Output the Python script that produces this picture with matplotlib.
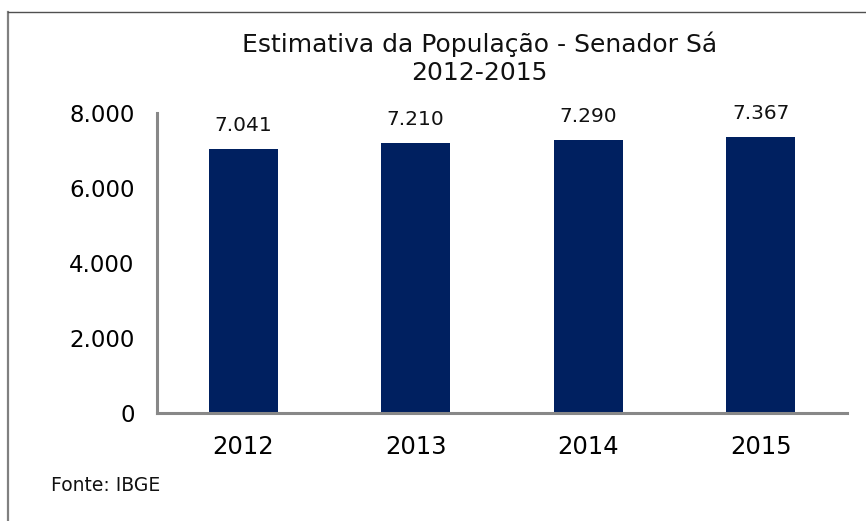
import matplotlib
matplotlib.use("Agg")
import matplotlib.pyplot as plt
from matplotlib.lines import Line2D

plt.rcParams['font.family'] = ['DejaVu Sans']

years = ["2012", "2013", "2014", "2015"]
population = [7041, 7210, 7290, 7367]
yticks = [0, 2000, 4000, 6000, 8000]
ytick_labels = ["0", "2.000", "4.000", "6.000", "8.000"]
value_labels = ["7.041", "7.210", "7.290", "7.367"]
title_line1 = "Estimativa da População - Senador Sá"
title_line2 = "2012-2015"
source_text = "Fonte: IBGE"

fig = plt.figure(figsize=(8.66, 5.21), dpi=100)
ax = fig.add_axes([0.181, 0.207, 0.797, 0.576])

x = range(len(years))
ax.bar(x, population, width=0.4, color="#002060", zorder=2)
for xi, v, lab in zip(x, population, value_labels):
    ax.annotate(lab, (xi, v), xytext=(0, 13), textcoords="offset points",
                ha="center", va="baseline", fontsize=14.5, color="#111111")

ax.set_xlim(-0.5, 3.5)
ax.set_ylim(0, 8000)
ax.set_xticks(list(x))
ax.set_xticklabels(years, fontsize=17.5)
ax.set_yticks(yticks)
ax.set_yticklabels(ytick_labels, fontsize=16.5)
ax.tick_params(axis="x", length=0, pad=16)
ax.tick_params(axis="y", length=0, pad=16)
for s in ["top", "right"]:
    ax.spines[s].set_visible(False)
for s in ["left", "bottom"]:
    ax.spines[s].set_color("#888888")
    ax.spines[s].set_linewidth(2.2)

fig.text(0.554, 0.8996, title_line1, ha="center", va="baseline", fontsize=18,
         color="#111111")
fig.text(0.554, 0.8464, title_line2, ha="center", va="baseline", fontsize=18,
         color="#111111")
fig.text(0.059, 0.058, source_text, ha="left", va="baseline", fontsize=13.5,
         color="#111111")

# figure frame (top and left edges visible)
fig.add_artist(Line2D([0.0095, 0.0095], [0, 0.977], transform=fig.transFigure,
                      color="#808080", lw=1.6))
fig.add_artist(Line2D([0.0095, 1.0], [0.977, 0.977], transform=fig.transFigure,
                      color="#505050", lw=1.0))

fig.savefig("out.png", dpi=100)
